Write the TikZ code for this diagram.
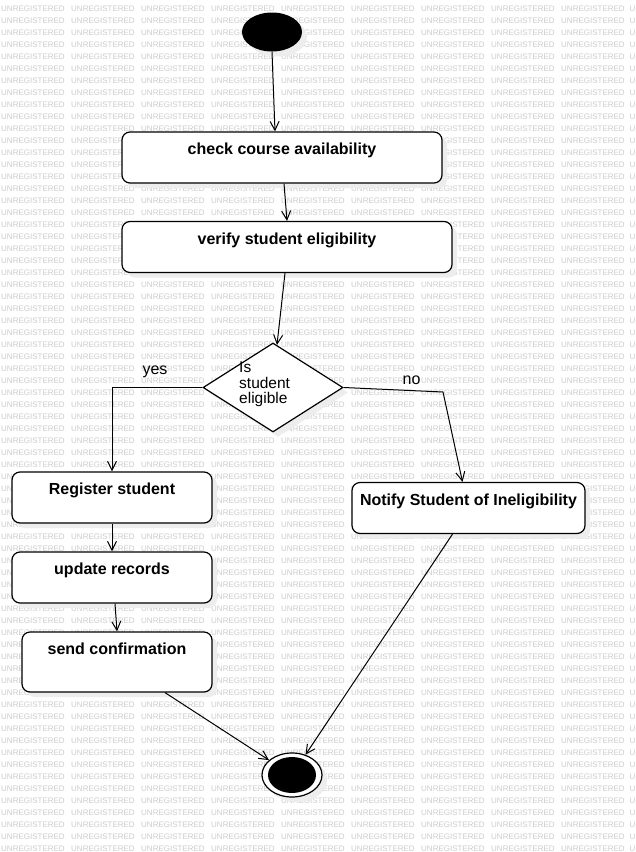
\documentclass[tikz,border=0pt]{standalone}
\usepackage{fontspec}
\setmainfont{Liberation Sans}
\usetikzlibrary{arrows.meta,shapes.geometric,shadows,positioning}
\tikzset{
  softshadow/.style={drop shadow={shadow xshift=5pt, shadow yshift=-5pt, fill=black!7, opacity=1}},
  action/.style={draw, line width=1.2pt, rounded corners=8pt, fill=white, softshadow,
    font=\fontsize{16}{19}\selectfont\bfseries, minimum height=51pt,
    text height=11.5pt, text depth=17pt, inner sep=0pt},
  flow/.style={line width=1pt, -{Straight Barb[length=9pt,width=9pt]}},
  guard/.style={font=\fontsize{16}{19}\selectfont, inner sep=0pt},
  watermark/.style={font=\fontsize{8}{8}\selectfont, text=black!20, anchor=base west, inner sep=0pt}
}
\begin{document}
\begin{tikzpicture}[x=1pt,y=-1pt]
\useasboundingbox (0,0) rectangle (636,852);
\fill[white] (0,0) rectangle (636,852);

% watermark
\foreach \r in {0,...,70}
{
  \foreach \c in {0,...,8}
    \node[watermark] (wm-\r-\c) at (1+70*\c, 11+12*\r) {UNREGISTERED};
  \node[watermark] (wm-\r-9) at (629.5, 11+12*\r) {U};
}

% start and end
\node[ellipse, fill=black, minimum width=60pt, minimum height=39pt, inner sep=0pt, softshadow] (start) at (272,32) {};
\node[ellipse, draw, line width=1.2pt, fill=white, minimum width=60pt, minimum height=44pt, inner sep=0pt, softshadow,
  path picture={\fill[black] (path picture bounding box.center) ellipse [x radius=24pt, y radius=18pt];}] (final) at (292,775) {};

% actions
\node[action, minimum width=320pt] (check) at (282,157.5) {check course availability};
\node[action, minimum width=330pt] (verify) at (287,247) {verify student eligibility};
\node[action, minimum width=200pt] (register) at (112,497.5) {Register student};
\node[action, minimum width=233pt] (notify) at (468.5,508) {Notify Student of Ineligibility};
\node[action, minimum width=200pt] (update) at (112,577.5) {update records};
\node[action, minimum width=190pt, minimum height=60pt, text depth=27.5pt] (send) at (117,662) {send confirmation};

% decision
\node[diamond, draw, line width=1.2pt, fill=white, minimum width=140pt, minimum height=89pt, inner sep=0pt, softshadow] (elig) at (273,387.5) {};
\node[anchor=north west, align=left, font=\fontsize{15.5}{15.5}\selectfont, inner sep=0pt] (eligtext) at (239,362) {Is\\student\\eligible};
\node[guard, anchor=base] (yes) at (155,374) {yes};
\node[guard, anchor=base] (no) at (411.5,384) {no};

% flows
\draw[flow] (start.south) -- ([xshift=-7pt]check.north);
\draw[flow] ([xshift=2pt]check.south) -- (verify.north);
\draw[flow] ([xshift=-2pt]verify.south) -- ([xshift=4pt,yshift=-2.5pt]elig.north);
\draw[flow] (elig.west) -| (register.north);
\coordinate (nobend) at (443,392);
\draw[flow] (elig.east) -- (nobend) -- ([xshift=-6pt]notify.north);
\draw[flow] (register.south) -- (update.north);
\draw[flow] ([xshift=3pt]update.south) -- (send.north);
\draw[flow] ([xshift=48pt]send.south) -- (final);
\draw[flow] ([xshift=-16pt]notify.south) -- (final);
\end{tikzpicture}
\end{document}
